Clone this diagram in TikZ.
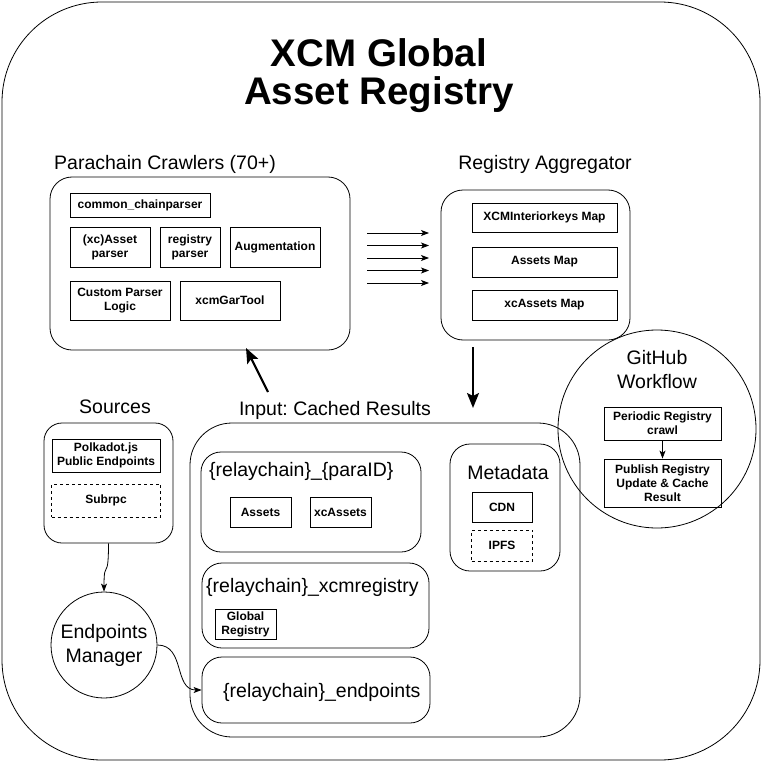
\documentclass[tikz,border=0pt]{standalone}
\usepackage{fontspec}
\setmainfont{Liberation Sans}
\usetikzlibrary{positioning}
\usetikzlibrary{arrows.meta,positioning}
\frenchspacing

\newcommand{\titlefont}{\fontsize{38.5}{38}\selectfont\bfseries}
\newcommand{\headfont}{\fontsize{19.5}{24}\selectfont}
\newcommand{\itemfont}{\fontsize{12}{14}\selectfont\bfseries}

\tikzset{
	panel/.style={draw, line width=0.8pt, rounded corners=22pt, inner sep=0pt},
	item/.style={draw, line width=0.8pt, inner sep=0pt, align=center, font=\itemfont},
	optitem/.style={item, dash pattern=on 3pt off 3pt},
	heading/.style={font=\headfont, inner sep=0pt},
	ring/.style={draw, circle, line width=0.8pt, inner sep=0pt},
	feed/.style={line width=0.8pt, -{Stealth[length=8pt,width=6pt,inset=2pt]}},
	bigflow/.style={line width=2.2pt, -{Stealth[length=15pt,width=12pt,inset=3pt]}}
}

\begin{document}
\begin{tikzpicture}[x=1pt,y=-1pt,on grid]
		\useasboundingbox (0,0) rectangle (762,762);

		% Frame and title
		\node[panel, rounded corners=100pt,
			minimum width=758pt, minimum height=758pt] (frame) at (381,381) {};
		\node[font=\titlefont, align=center, inner sep=0pt] (title) at (379,76) {XCM Global\\Asset Registry};

		% Parachain crawlers
		\node[heading, anchor=base] (crawlerstitle) at (165,170) {Parachain Crawlers (70+)};
		\node[panel, minimum width=300pt, minimum height=173pt] (crawlers) at (200,263.5) {};
		\node[item, minimum width=140pt, minimum height=24pt] (chainparser) at (140,205) {common\_chainparser};
		\node[item, minimum width=80pt, minimum height=40pt] (assetparser) at (110,247) {(xc)Asset\\parser};
		\node[item, minimum width=60pt, minimum height=40pt,
			right = 80pt of assetparser] (registryparser) {registry\\parser};
		\node[item, minimum width=90pt, minimum height=40pt,
			right = 85pt of registryparser] (augmentation) {Augmentation};
		\node[item, minimum width=100pt, minimum height=39pt] (customparser) at (120,300.5) {Custom Parser\\Logic};
		\node[item, minimum width=100pt, minimum height=39pt,
			right = 110pt of customparser] (gartool) {xcmGarTool};

		% Registry aggregator
		\node[heading, anchor=base] (aggtitle) at (545,169) {Registry Aggregator};
		\node[panel, minimum width=189pt, minimum height=150pt] (aggregator) at (535.5,265) {};
		\node[item, minimum width=145pt, minimum height=29pt] (interiorkeys) at (544.5,217.5) {XCMInteriorkeys Map};
		\node[item, minimum width=145pt, minimum height=30pt,
			below = 44.5pt of interiorkeys] (assetsmap) {Assets Map};
		\node[item, minimum width=145pt, minimum height=30pt,
			below = 43pt of assetsmap] (xcassetsmap) {xcAssets Map};

		\foreach \i/\y in {1/233,2/245.5,3/258,4/270.5,5/283}{
			\coordinate (feedstart\i) at (367,\y);
			\coordinate (feedend\i) at (429,\y);
			\draw[feed] (feedstart\i) -- (feedend\i);
		}

		% Sources
		\node[heading, anchor=base] (sourcestitle) at (115,413) {Sources};
		\node[panel, rounded corners=18pt, minimum width=129pt, minimum height=120pt] (sources) at (108.5,483) {};
		\node[item, minimum width=108pt, minimum height=33pt] (polkadot) at (106,455.5) {Polkadot.js\\Public Endpoints};
		\node[optitem, minimum width=109pt, minimum height=33pt,
			below = 45pt of polkadot] (subrpc) {Subrpc};
		\node[ring, minimum size=106pt, font=\headfont, align=center] (manager) at (104,645) {Endpoints\\Manager};

		% Cached results
		\node[heading, anchor=base] (cachedtitle) at (335,415) {Input: Cached Results};
		\node[panel, rounded corners=42pt, minimum width=390pt, minimum height=314pt] (cached) at (385,580) {};

		\node[panel, rounded corners=20pt, minimum width=220pt, minimum height=100pt] (paraid) at (311,502) {};
		\node[heading, anchor=base west] (paraidtitle) at (209,476) {\{relaychain\}\_\{paraID\}};
		\node[item, minimum width=61pt, minimum height=30pt] (assets) at (260.5,512) {Assets};
		\node[item, minimum width=61pt, minimum height=30pt,
			right = 80pt of assets] (xcassets) {xcAssets};

		\node[panel, rounded corners=20pt, minimum width=227pt, minimum height=85pt] (xcmregistry) at (315.5,605.5) {};
		\node[heading, anchor=base west] (xcmregistrytitle) at (206,592) {\{relaychain\}\_xcmregistry};
		\node[item, minimum width=61pt, minimum height=30pt] (globalregistry) at (245.5,624) {Global\\Registry};

		\node[panel, rounded corners=20pt, minimum width=228pt, minimum height=66pt] (endpoints) at (316,690) {};
		\node[heading, anchor=base west] (endpointstitle) at (223,697) {\{relaychain\}\_endpoints};

		\node[panel, rounded corners=20pt, minimum width=110pt, minimum height=127pt] (metadata) at (505,507.5) {};
		\node[heading, anchor=base] (metadatatitle) at (508,479) {Metadata};
		\node[item, minimum width=60pt, minimum height=30pt] (cdn) at (502,507) {CDN};
		\node[optitem, minimum width=61pt, minimum height=31pt,
			below = 38.5pt of cdn] (ipfs) {IPFS};

		% GitHub workflow
		\node[ring, minimum size=198pt] (github) at (657,429) {};
		\node[heading, align=center] (githubtitle) at (657,370) {GitHub\\Workflow};
		\node[item, minimum width=117pt, minimum height=33pt] (periodic) at (662.5,423.5) {Periodic Registry\\crawl};
		\node[item, minimum width=117pt, minimum height=48pt] (publish) at (662.5,483) {Publish Registry\\Update \& Cache\\Result};

		% Flows
		\coordinate (aggout) at (473,347);
		\coordinate (cachedin) at (473,408);
		\coordinate (cachedout) at (268,392);
		\coordinate (crawlersin) at (246,348);
		\draw[bigflow] (aggout) -- (cachedin);
		\draw[bigflow] (cachedout) -- (crawlersin);
		\draw[feed] (periodic) -- (publish);
		\draw[feed] (sources.south) .. controls +(0,40) and +(0,-35) .. (manager.north);
		\draw[feed] (manager.east) .. controls +(28,0) and +(-28,0) .. (endpoints.west);
	\end{tikzpicture}
\end{document}
